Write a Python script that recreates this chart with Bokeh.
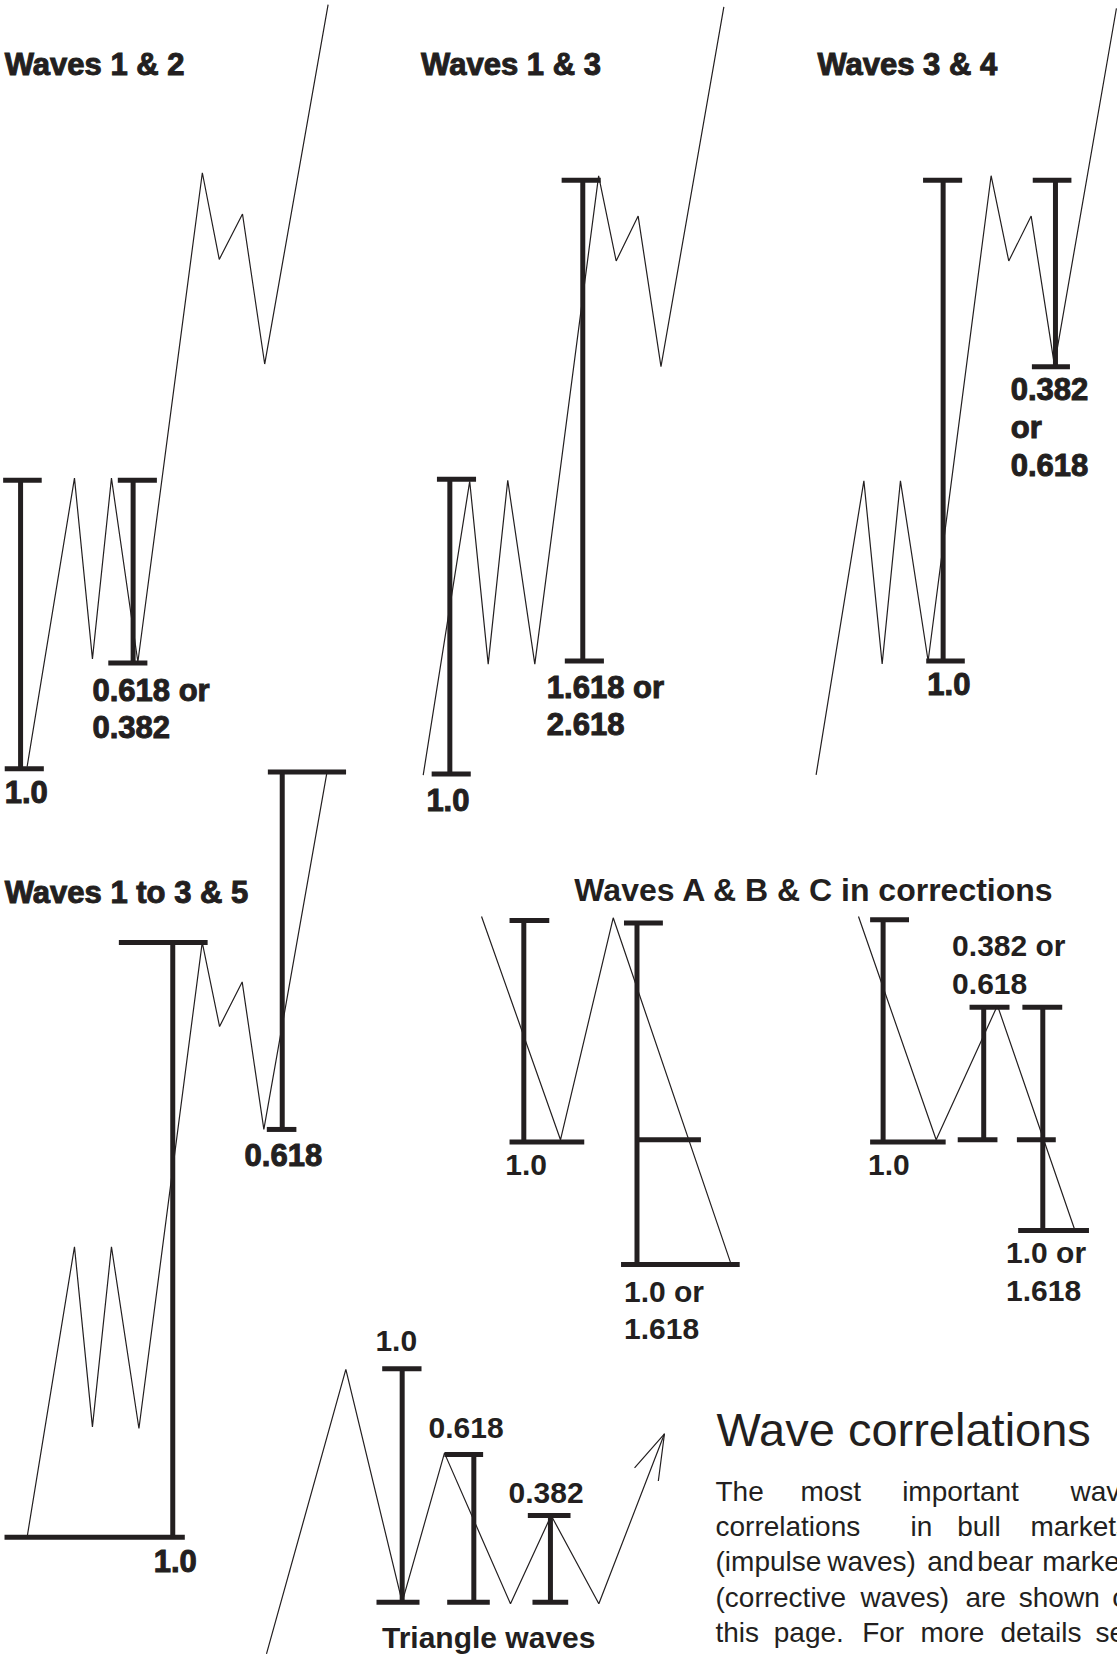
from bokeh.plotting import figure
from bokeh.models import Range1d, ColumnDataSource
from bokeh.core.properties import value
from bokeh.embed import file_html
from bokeh.resources import INLINE

# ---------------- data (reference image units) ----------------
# wave paths
wave_12_x = [25.2, 70, 87, 105, 130, 191, 207, 229, 250, 310]
wave_12_y = [725, 452, 623, 452, 626, 163, 245, 202, 344, 4]
wave_13_x = [400, 444, 461.5, 480, 505.6, 566, 582.6, 603.4, 625, 684.5]
wave_13_y = [733, 455, 628, 454, 628, 166, 246.5, 204, 346.5, 6]
wave_34_x = [771.8, 817, 834.3, 851.6, 877.8, 937.4, 954.1, 975.3, 997.3, 1056]
wave_34_y = [732.7, 454.5, 627.7, 454.5, 625, 165.8, 246.5, 204, 345, 7.4]
wave_135_x = [25.2, 70, 87, 105, 131, 190.9, 207.3, 228.7, 249.2, 309]
wave_135_y = [1454, 1179.3, 1349.8, 1179.3, 1351.3, 891.3, 970.9, 928.7, 1068.3, 730]
abc_left_x = [455.2, 529.9, 579.8, 691]
abc_left_y = [866.8, 1078.1, 868, 1194.8]
abc_right_x = [811.9, 885.4, 943.4, 1016.2]
abc_right_y = [866.8, 1078.1, 951, 1162.3]
tri_x = [251.7, 326.8, 380.1, 420.1, 482.6, 521.1, 566.2, 628.3]
tri_y = [1564.5, 1295.4, 1515.6, 1374.6, 1517.2, 1433.6, 1517.2, 1356.3]
arrow_x = [600, 628.3, 622.5]
arrow_y = [1388.5, 1356.3, 1401]

# measuring bars: vertical strokes
bar_x = [19, 125.5, 425.2, 551, 892, 998.3, 163, 266.6,
         495.2, 602.3, 835.2, 930.4, 986.3, 380.1, 447.9, 520.4]
bar_top = [454, 454, 453, 170, 170, 170, 891.3, 730,
           870.6, 873, 869.9, 952.6, 952.6, 1294.8, 1375.9, 1433.6]
bar_bottom = [727, 627, 732, 625, 625, 346.5, 1454.3, 1068.3,
              1080.3, 1195.4, 1080.3, 1078, 1163.9, 1515.6, 1515.6, 1515.6]
# measuring bars: horizontal ticks
tick_x0 = [2.5, 4, 111, 102, 413, 408, 531, 534, 873, 876, 976.8, 976,
           112, 3.8, 253, 252,
           481.7, 481.7, 590, 602.3, 587.2, 822.9, 822.9, 917, 905.8, 967, 961.8, 963,
           361.2, 355.8, 420.1, 422.7, 499, 503.4]
tick_x1 = [39, 41, 148, 139, 450, 445, 568, 571, 910, 912.5, 1013.4, 1012,
           196, 174.4, 327, 280,
           519.3, 552.4, 626.8, 662.8, 699.5, 859.7, 894.4, 954.8, 943.4, 1004.7, 998.6, 1030,
           398.4, 396.5, 456.7, 463, 539.4, 537.2]
tick_y = [454, 727, 454, 627, 453, 732, 170, 625, 170, 625, 170, 346.5,
          891.3, 1454.3, 730, 1068.3,
          870.6, 1080.3, 873, 1078.1, 1196, 869.9, 1080.3, 952.6, 1078, 952.6, 1078, 1163.9,
          1294.8, 1515.6, 1375.9, 1515.6, 1433.6, 1515.6]

# titles
title_text = ["Waves 1 & 2", "Waves 1 & 3", "Waves 3 & 4", "Waves 1 to 3 & 5"]
title_x = [4, 398, 773, 4]
title_y = [71, 71, 71, 854.5]
abc_title = ["Waves A & B & C in corrections"]
abc_title_x = [543]
abc_title_y = [853]

# ratio labels (upper panels)
ratio_text = ["0.618 or", "0.382", "1.0", "1.618 or", "2.618", "1.0",
              "0.382", "or", "0.618", "1.0", "0.618", "1.0"]
ratio_x = [87, 87, 4, 517, 517, 403, 956, 956, 956, 877, 231, 145]
ratio_y = [664, 698, 760, 661, 695.5, 767, 378.7, 414.9, 450.5, 657.4, 1103.4, 1487.5]

# ratio labels (corrections / triangle)
ratio2_text = ["1.0", "1.0 or", "1.618", "1.0", "0.382 or", "0.618", "1.0 or", "1.618",
               "1.0", "0.618", "0.382", "Triangle waves"]
ratio2_x = [477.7, 590, 590, 821, 900.5, 900.5, 951.5, 951.5, 354.8, 405, 480.7, 361]
ratio2_y = [1112, 1231.8, 1268, 1112, 905, 941.6, 1195.4, 1231.8, 1279, 1361, 1422.6, 1559.7]

# heading and paragraph
heading_text = ["Wave correlations"]
heading_x = [677.5]
heading_y = [1369]
para_words = ["The", "most", "important", "wave",
              "correlations", "in", "bull", "markets",
              "(impulse", "waves)", "and", "bear", "markets",
              "(corrective", "waves)", "are", "shown", "on",
              "this", "page.", "For", "more", "details", "see"]
para_x = [676.6, 757, 853.2, 1012.5,
          676.6, 861.1, 905.3, 974.6,
          676.6, 782.3, 876.9, 924.2, 985.7,
          676.6, 813.8, 913.1, 963.6, 1052,
          676.6, 731.7, 815.4, 870.6, 946.3, 1036.2]
para_y = [1421] * 4 + [1454.1] * 4 + [1487.2] * 5 + [1520.9] * 5 + [1554.4] * 6

# ---------------- figure ----------------
INK = "#231f20"
S = 1117 / 1057
W, H = 1117, 1657
p = figure(width=W, height=H,
           x_range=Range1d(0, W / S),
           y_range=Range1d(H / S, 0),
           output_backend="svg", toolbar_location=None,
           x_axis_type=None, y_axis_type=None, min_border=0)
p.outline_line_color = None
p.background_fill_color = "white"
p.border_fill_color = "white"

p.multi_line(xs=[wave_12_x, wave_13_x, wave_34_x, wave_135_x, abc_left_x, abc_right_x, tri_x, arrow_x],
             ys=[wave_12_y, wave_13_y, wave_34_y, wave_135_y, abc_left_y, abc_right_y, tri_y, arrow_y],
             line_color=INK, line_width=1.2)

p.segment(x0=bar_x, y0=bar_top, x1=bar_x, y1=bar_bottom,
          line_color=INK, line_width=5, line_cap="butt")
p.segment(x0=tick_x0, y0=tick_y, x1=tick_x1, y1=tick_y,
          line_color=INK, line_width=5, line_cap="butt")

def add_text(xs, ys, texts, size_px, style, heavy=False):
    # the renderer places glyphs about 0.37 em lower than the requested baseline
    shift = 0.37 * size_px / S
    src = ColumnDataSource(dict(x=xs, y=[v - shift for v in ys], t=texts))
    extra = dict(text_outline_color=INK) if heavy else {}
    p.text(x="x", y="y", text="t", source=src,
           text_font=value("Liberation Sans"), text_font_style=style,
           text_font_size=value(f"{size_px}px"), text_color=INK,
           text_align="left", text_baseline="alphabetic", **extra)

add_text(title_x, title_y, title_text, 31, "bold", heavy=True)
add_text(abc_title_x, abc_title_y, abc_title, 32, "bold")
add_text(ratio_x, ratio_y, ratio_text, 31, "bold", heavy=True)
add_text(ratio2_x, ratio2_y, ratio2_text, 30, "bold")
add_text(heading_x, heading_y, heading_text, 47, "normal")
add_text(para_x, para_y, para_words, 28, "normal")

open("out.html", "w").write(file_html(p, INLINE))
